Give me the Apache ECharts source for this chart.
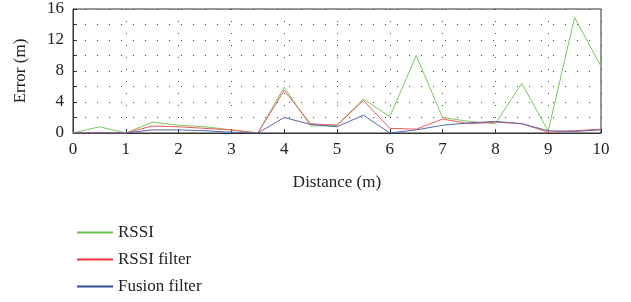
<!DOCTYPE html>
<html>
<head>
<meta charset="utf-8">
<script src="https://cdn.jsdelivr.net/npm/echarts@6/dist/echarts.min.js"></script>
<style>
html, body { margin: 0; padding: 0; background: #fff; }
#container { width: 631px; height: 302px; }
</style>
</head>
<body>
<div id="container"></div>
<script>
var distances = [0, 0.5, 1, 1.5, 2, 2.5, 3, 3.5, 4, 4.5, 5, 5.5, 6, 6.5, 7, 7.5, 8, 8.5, 9, 9.5, 10];
var rssi =         [0, 0.8, 0, 1.4, 1.0, 0.8, 0.4, 0, 5.9, 0.9, 1.0, 4.4, 2.1, 10.0, 2.0, 1.5, 1.2, 6.4, 0.25, 14.9, 8.6];
var rssiFilter =   [0, 0, 0, 0.9, 0.8, 0.6, 0.4, 0, 5.5, 1.2, 1.0, 4.2, 0.6, 0.5, 1.8, 1.2, 1.4, 1.2, 0.1, 0.3, 0.5];
var fusionFilter = [0, 0, 0, 0.4, 0.4, 0.3, 0.1, 0, 2.0, 1.1, 0.8, 2.3, 0, 0.4, 1.0, 1.3, 1.5, 1.2, 0.3, 0.2, 0.4];
var yLabels = [0, 4, 8, 12, 16];

function pairs(ys) {
	var out = [];
	for (var i = 0; i < distances.length; i++) {
		out.push([distances[i], ys[i]]);
	}
	return out;
}

var font = 'Liberation Serif';
var dom = document.getElementById('container');
var myChart = echarts.init(dom);
var option = {
	animation: false,
	textStyle: { fontFamily: font },
	grid: {
		left: 73, right: 30, top: 9, bottom: 169,
		show: true, borderColor: '#333', borderWidth: 1
	},
	legend: {
		orient: 'vertical',
		left: 72, top: 219,
		itemWidth: 36, itemHeight: 10, itemGap: 10,
		icon: 'path://M0,4 L36,4 L36,6 L0,6 Z',
		textStyle: { fontFamily: font, fontSize: 17, color: '#222' },
		data: ['RSSI', 'RSSI filter', 'Fusion filter']
	},
	xAxis: {
		type: 'value', min: 0, max: 10, interval: 1,
		name: 'Distance (m)', nameLocation: 'middle', nameGap: 41,
		nameTextStyle: { fontFamily: font, fontSize: 17, color: '#222' },
		axisLine: { lineStyle: { color: '#333' } },
		axisTick: { inside: true, length: 4, lineStyle: { color: '#333' } },
		axisLabel: { fontFamily: font, fontSize: 17, color: '#222', margin: 8 },
		splitLine: { show: true, lineStyle: { color: '#444', type: [1, 11], width: 1 } }
	},
	yAxis: {
		type: 'value', min: 0, max: 16, interval: 2,
		name: 'Error (m)', nameLocation: 'middle', nameGap: 44, nameRotate: 90,
		nameTextStyle: { fontFamily: font, fontSize: 17, color: '#222' },
		axisLine: { show: true, lineStyle: { color: '#333' } },
		axisTick: { show: true, inside: true, length: 4, lineStyle: { color: '#333' } },
		axisLabel: {
			fontFamily: font, fontSize: 17, color: '#222', margin: 9,
			formatter: function (v) { return yLabels.indexOf(v) >= 0 ? String(v) : ''; }
		},
		splitLine: { show: true, lineStyle: { color: '#444', type: [1, 11], width: 1 } }
	},
	series: [
		{ name: 'RSSI', type: 'line', symbol: 'none', data: pairs(rssi),
		  itemStyle: { color: '#6cc24a' }, lineStyle: { color: '#7cc860', width: 1 }, z: 3 },
		{ name: 'RSSI filter', type: 'line', symbol: 'none', data: pairs(rssiFilter),
		  itemStyle: { color: '#e8343a' }, lineStyle: { color: '#ee5a5e', width: 1 }, z: 4 },
		{ name: 'Fusion filter', type: 'line', symbol: 'none', data: pairs(fusionFilter),
		  itemStyle: { color: '#34479a' }, lineStyle: { color: '#5566b0', width: 1 }, z: 5 }
	]
};
myChart.setOption(option);
</script>
</body>
</html>
